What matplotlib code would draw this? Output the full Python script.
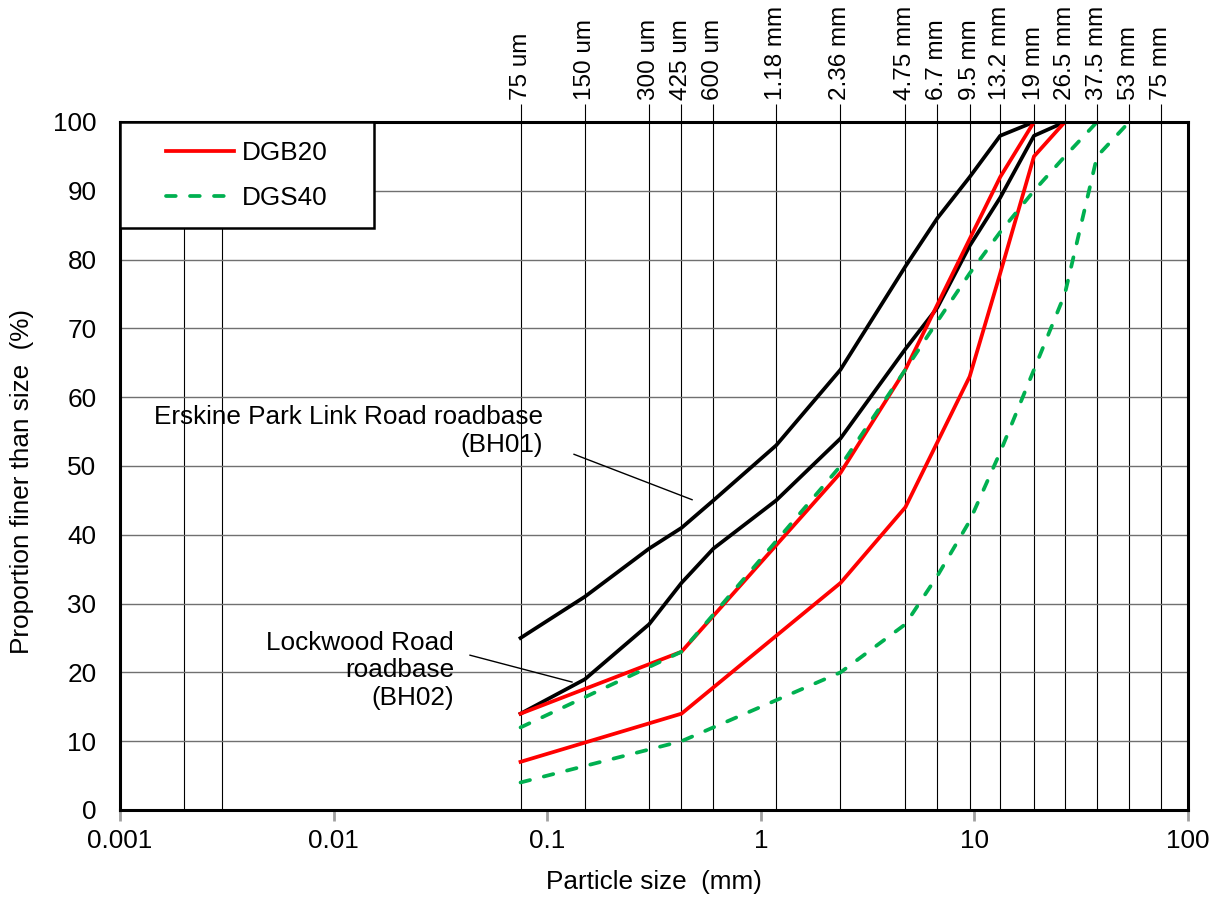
"""
Particle size distribution chart: roadbase samples vs DGB20 / DGS40 grading envelopes
"""

import matplotlib
matplotlib.use("Agg")
import matplotlib.pyplot as plt
from matplotlib.lines import Line2D
from matplotlib.legend_handler import HandlerLine2D

plt.rcParams["font.family"] = ["Liberation Sans", "DejaVu Sans"]
plt.rcParams["font.size"] = 18.8

# Sieve sizes (mm) and top-axis labels
sieves = [0.075, 0.15, 0.3, 0.425, 0.6, 1.18, 2.36, 4.75, 6.7, 9.5, 13.2, 19, 26.5, 37.5, 53, 75]
sieve_labels = ["75 um", "150 um", "300 um", "425 um", "600 um", "1.18 mm", "2.36 mm",
                "4.75 mm", "6.7 mm", "9.5 mm", "13.2 mm", "19 mm", "26.5 mm", "37.5 mm",
                "53 mm", "75 mm"]
extra_grid = [0.002, 0.003]

# Samples (black)
sample_sizes = [0.075, 0.15, 0.3, 0.425, 0.6, 1.18, 2.36, 4.75, 6.7, 9.5, 13.2, 19, 26.5]
erskine_bh01 = [25, 31, 38, 41, 45, 53, 64, 79, 86, 92, 98, 100, 100]
lockwood_bh02 = [14, 19, 27, 33, 38, 45, 54, 67, 73, 82, 89, 98, 100]

# DGB20 envelope (red)
dgb20_sizes = [0.075, 0.425, 2.36, 4.75, 9.5, 13.2, 19, 26.5]
dgb20_upper = [14, 23, 49, 64, 83, 92, 100, 100]
dgb20_lower = [7, 14, 33, 44, 63, 78, 95, 100]

# DGS40 envelope (green dashed)
dgs40_sizes = [0.075, 0.425, 2.36, 4.75, 6.7, 9.5, 13.2, 19, 26.5, 37.5, 53]
dgs40_upper = [12, 23, 50, 64, 71, 78, 84, 90, 95, 100, 100]
dgs40_lower = [4, 10, 20, 27, 34, 42, 52, 64, 75, 95, 100]

GREEN = "#00B050"
RED = "#FF0000"
LW = 2.7
DASH = dict(dashes=(2.6, 3.8), dash_capstyle="round")


class IndentedLine(HandlerLine2D):
    # legend handle with blank space on its left, as in the original sheet
    def get_xdata(self, legend, xdescent, ydescent, width, height, fontsize):
        x = [-xdescent + 0.29 * width, -xdescent + width]
        return x, x


fig = plt.figure(figsize=(12.21, 8.99), dpi=100)
ax = fig.add_axes([0.0983, 0.099, 0.8747, 0.7653])

ax.set_xscale("log")
ax.set_xlim(0.001, 100)
ax.set_ylim(0, 100)

# grid
for s in sieves + extra_grid:
    ax.axvline(s, color="black", lw=0.8, zorder=1)
for yv in range(10, 100, 10):
    ax.axhline(yv, color="#707070", lw=1.0, zorder=1)

# curves
ax.plot(sample_sizes, erskine_bh01, color="black", lw=LW, zorder=3)
ax.plot(sample_sizes, lockwood_bh02, color="black", lw=LW, zorder=3)
ax.plot(dgb20_sizes, dgb20_upper, color=RED, lw=LW, zorder=4)
ax.plot(dgb20_sizes, dgb20_lower, color=RED, lw=LW, zorder=4)
ax.plot(dgs40_sizes, dgs40_upper, color=GREEN, lw=LW, zorder=5, **DASH)
ax.plot(dgs40_sizes, dgs40_lower, color=GREEN, lw=LW, zorder=5, **DASH)

# axes styling
for sp in ax.spines.values():
    sp.set_linewidth(2.2)
    sp.set_zorder(6)
ax.set_xticks([0.001, 0.01, 0.1, 1, 10, 100])
ax.set_xticklabels(["0.001", "0.01", "0.1", "1", "10", "100"])
ax.xaxis.set_minor_locator(matplotlib.ticker.NullLocator())
ax.tick_params(axis="x", which="major", direction="out", length=8, width=2,
               color="#a0a0a0", pad=6)
ax.set_yticks(range(0, 101, 10))
ax.tick_params(axis="y", length=0, pad=17)

ax.set_xlabel("Particle size  (mm)", labelpad=12)
ax.set_ylabel("Proportion finer than size  (%)")
ax.yaxis.set_label_coords(-0.081, 0.477)

# top axis with sieve labels
top = ax.secondary_xaxis("top")
top.set_xticks(sieves)
top.set_xticklabels(sieve_labels, rotation=90, fontsize=17.5)
top.xaxis.set_minor_locator(matplotlib.ticker.NullLocator())
top.tick_params(axis="x", direction="out", length=13, width=0.8, pad=3)
top.spines["top"].set_visible(False)

# annotations
ax.text(0.0955, 55.1, "Erskine Park Link Road roadbase\n(BH01)", ha="right", va="center",
        multialignment="right", zorder=7)
ax.plot([0.1335, 0.4766], [51.7, 45.1], color="black", lw=1.0, zorder=7)
ax.text(0.0366, 20.3, "Lockwood Road\nroadbase\n(BH02)", ha="right", va="center",
        multialignment="right", zorder=7)
ax.plot([0.0435, 0.1306], [22.5, 18.6], color="black", lw=1.0, zorder=7)

# legend
handles = [Line2D([], [], color=RED, lw=LW),
           Line2D([], [], color=GREEN, lw=LW, **DASH)]
leg = ax.legend(handles, ["DGB20", "DGS40"], loc="upper left",
                bbox_to_anchor=(0.0, 0.0, 0.2378, 1.0), mode="expand",
                borderaxespad=0, frameon=True, fancybox=False, edgecolor="black",
                framealpha=1, handlelength=3.65, borderpad=0.72, labelspacing=0.8,
                handletextpad=0.3, handler_map={Line2D: IndentedLine()})
leg.get_frame().set_linewidth(1.8)
leg.set_zorder(8)

plt.savefig("out.png", dpi=100)
